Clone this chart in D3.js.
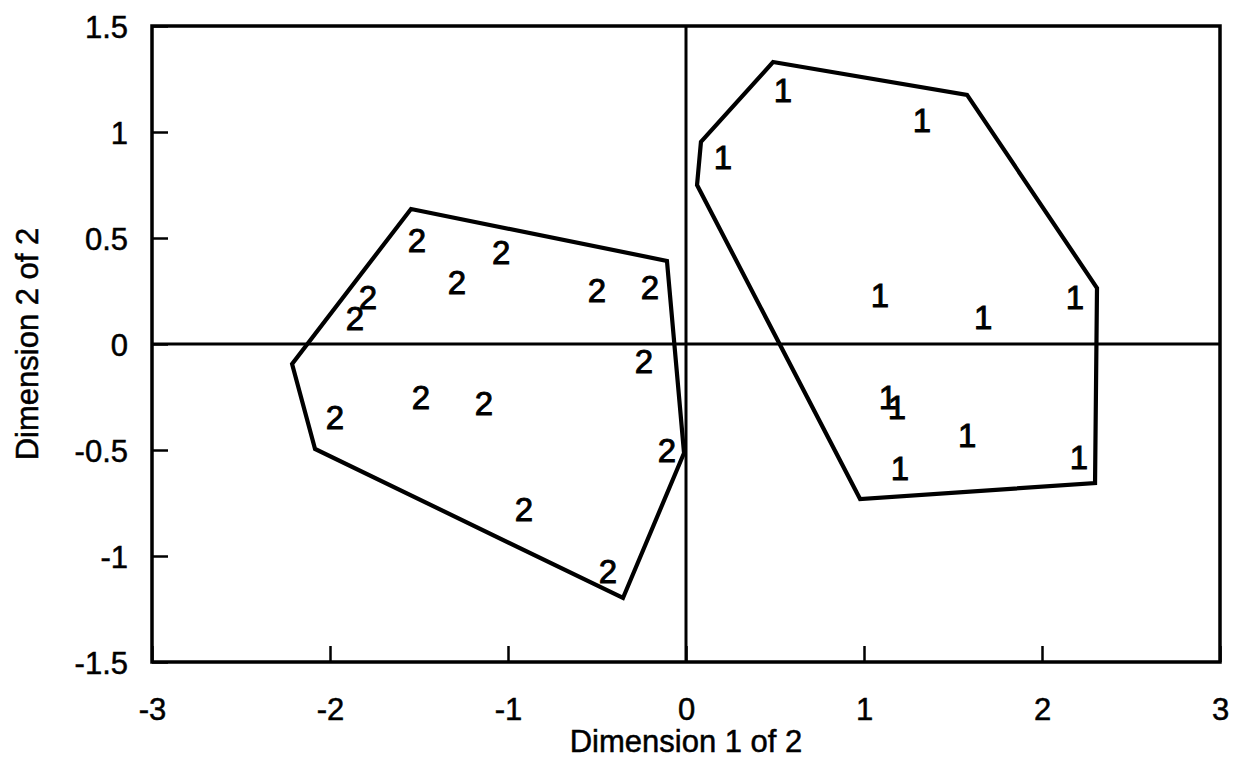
<!DOCTYPE html>
<html>
<head>
<meta charset="utf-8">
<script src="https://cdn.jsdelivr.net/npm/d3@7"></script>
<style>
  html, body { margin: 0; padding: 0; background: #fff; }
  svg { display: block; }
  text { font-family: "Liberation Sans", Arial, sans-serif; fill: #000; }
</style>
</head>
<body>
<svg id="chart" width="1241" height="781"></svg>
<script>
// Two-dimensional MDS solution: cluster membership labels and cluster outlines.
const xTicks = [-3, -2, -1, 0, 1, 2, 3];
const yTicks = [-1.5, -1, -0.5, 0, 0.5, 1, 1.5];

// Cluster 1 stimuli (dimension 1, dimension 2)
const cluster1Points = [
  [0.545, 1.198], [1.326, 1.057], [0.208, 0.882],
  [1.090, 0.231], [1.669, 0.127], [2.185, 0.222],
  [1.135, -0.250], [1.185, -0.297], [1.579, -0.429],
  [1.202, -0.585], [2.208, -0.533]
];
// Cluster 2 stimuli
const cluster2Points = [
  [-1.511, 0.491], [-1.039, 0.434], [-1.287, 0.292],
  [-1.787, 0.222], [-1.860, 0.123], [-0.500, 0.255],
  [-0.202, 0.269], [-0.236, -0.080], [-1.972, -0.344],
  [-1.489, -0.250], [-1.135, -0.278], [-0.107, -0.500],
  [-0.910, -0.778], [-0.438, -1.071]
];
// Outline vertices drawn around each cluster
const cluster1Outline = [
  [0.489, 1.330], [1.579, 1.175], [2.309, 0.264], [2.298, -0.656],
  [0.978, -0.731], [0.062, 0.750], [0.084, 0.953]
];
const cluster2Outline = [
  [-1.545, 0.637], [-0.107, 0.392], [-0.011, -0.514], [-0.354, -1.198],
  [-2.084, -0.495], [-2.213, -0.094]
];

const svg = d3.select("#chart");
const plotLeft = 152, plotRight = 1220, plotTop = 26, plotBottom = 662;

const x = d3.scaleLinear().domain([-3, 3]).range([plotLeft, plotRight]);
const y = d3.scaleLinear().domain([-1.5, 1.5]).range([plotBottom, plotTop]);

// Zero reference lines
svg.append("line")
  .attr("x1", plotLeft).attr("x2", plotRight)
  .attr("y1", y(0)).attr("y2", y(0))
  .attr("stroke", "#000").attr("stroke-width", 3);
svg.append("line")
  .attr("x1", x(0)).attr("x2", x(0))
  .attr("y1", plotTop).attr("y2", plotBottom)
  .attr("stroke", "#000").attr("stroke-width", 3);

// Cluster outlines
const outline = d3.line().x(d => x(d[0])).y(d => y(d[1])).curve(d3.curveLinearClosed);
[cluster1Outline, cluster2Outline].forEach(poly => {
  svg.append("path")
    .attr("d", outline(poly))
    .attr("fill", "none")
    .attr("stroke", "#000")
    .attr("stroke-width", 4.2)
    .attr("stroke-linejoin", "miter");
});

// Point labels (cluster number used as marker)
const labelSize = 33;
function drawLabels(points, label) {
  svg.append("g").selectAll("text")
    .data(points)
    .join("text")
    .attr("x", d => x(d[0]))
    .attr("y", d => y(d[1]))
    .attr("dy", "0.358em")
    .attr("text-anchor", "middle")
    .attr("font-size", labelSize)
    .attr("stroke", "#000")
    .attr("stroke-width", 0.9)
    .text(label);
}
drawLabels(cluster1Points, "1");
drawLabels(cluster2Points, "2");

// Axes with inward ticks
const fmt = d => (d === 0 ? "0" : String(d));
const xAxis = svg.append("g")
  .attr("transform", `translate(0,${plotBottom})`)
  .call(d3.axisBottom(x).tickValues(xTicks).tickFormat(fmt).tickSize(-16).tickPadding(36));
const yAxis = svg.append("g")
  .attr("transform", `translate(${plotLeft},0)`)
  .call(d3.axisLeft(y).tickValues(yTicks).tickFormat(fmt).tickSize(-16).tickPadding(40));

[xAxis, yAxis].forEach(g => {
  g.select(".domain").remove();
  g.selectAll("line").attr("stroke", "#000").attr("stroke-width", 2.5);
  g.selectAll("text")
    .attr("font-family", "'Liberation Sans', Arial, sans-serif")
    .attr("font-size", 31)
    .attr("fill", "#000")
    .attr("stroke", "#000")
    .attr("stroke-width", 0.5);
});
yAxis.selectAll(".tick text").attr("x", -24).attr("dy", "0.358em");

// Plot frame
svg.append("rect")
  .attr("x", plotLeft).attr("y", plotTop)
  .attr("width", plotRight - plotLeft).attr("height", plotBottom - plotTop)
  .attr("fill", "none")
  .attr("stroke", "#000")
  .attr("stroke-width", 3.5);

// Axis titles
svg.append("text")
  .attr("x", x(0)).attr("y", 752)
  .attr("text-anchor", "middle")
  .attr("font-size", 31)
  .attr("stroke", "#000")
  .attr("stroke-width", 0.5)
  .text("Dimension 1 of 2");
svg.append("text")
  .attr("transform", `translate(38,${y(0)}) rotate(-90)`)
  .attr("text-anchor", "middle")
  .attr("font-size", 31)
  .attr("stroke", "#000")
  .attr("stroke-width", 0.5)
  .text("Dimension 2 of 2");
</script>
</body>
</html>
